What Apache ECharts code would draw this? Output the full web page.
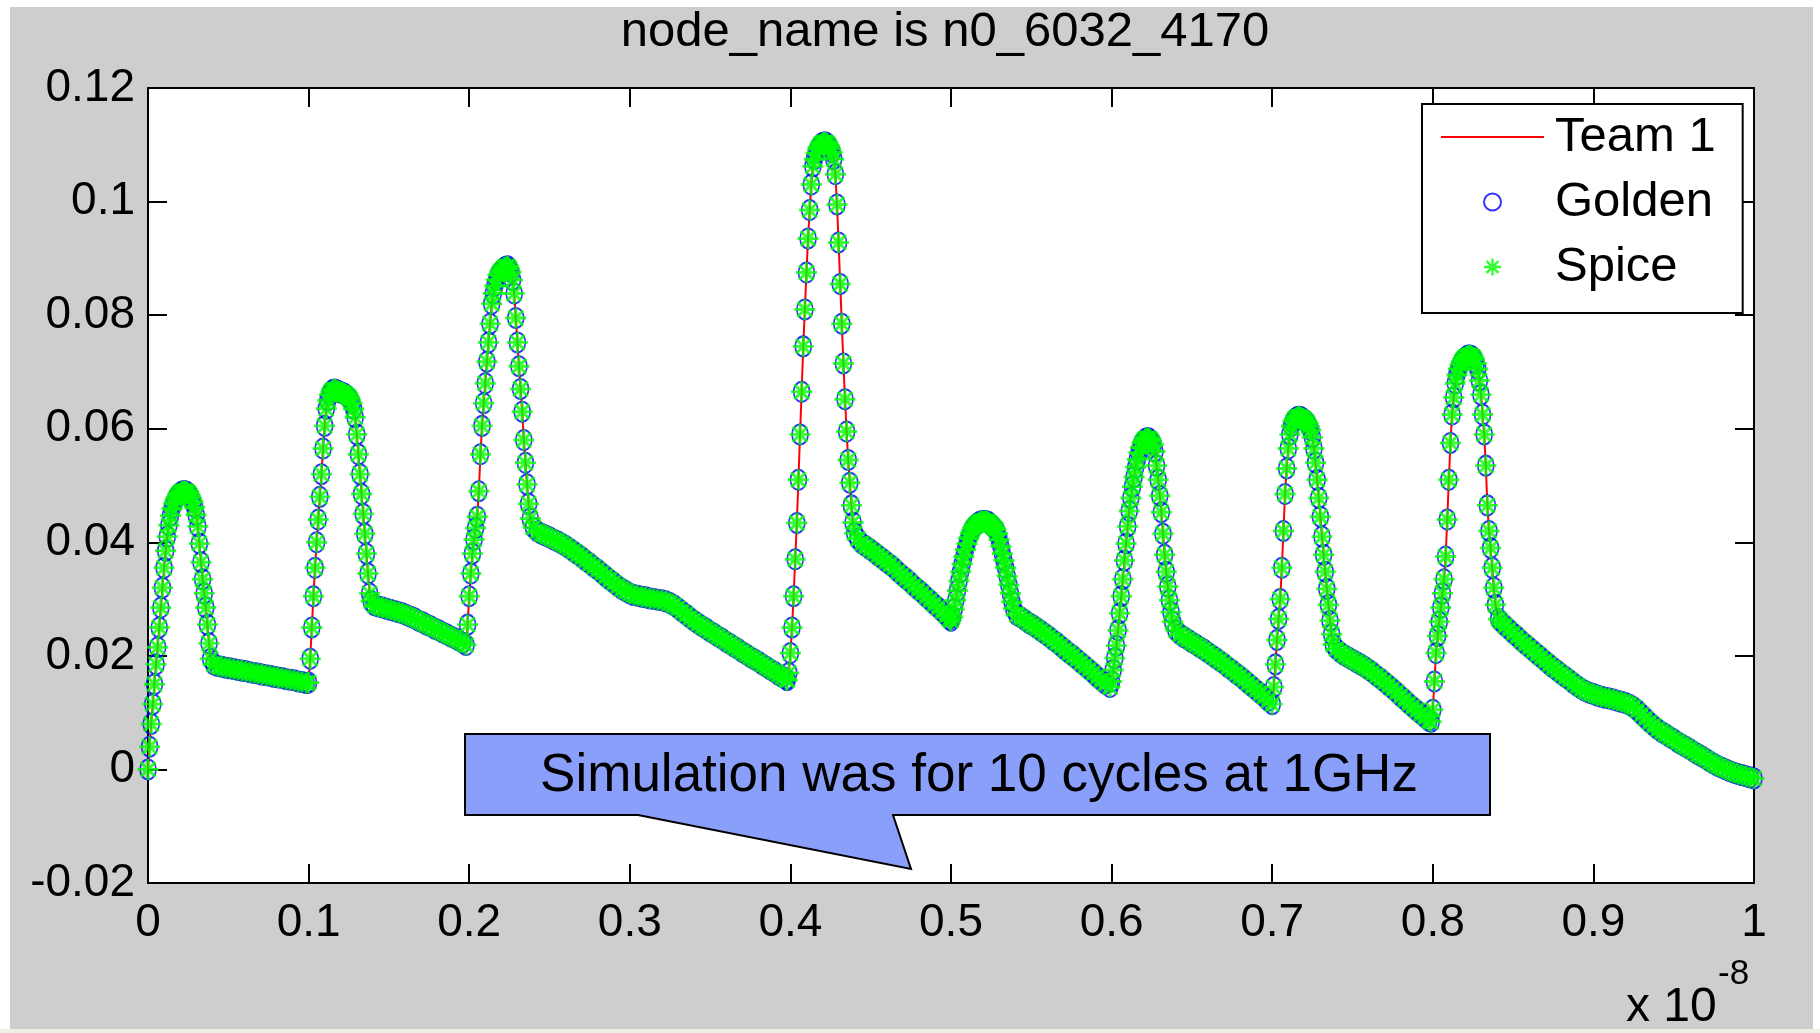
<!DOCTYPE html>
<html>
<head>
<meta charset="utf-8">
<script src="https://cdn.jsdelivr.net/npm/echarts@6/dist/echarts.min.js"></script>
<style>
    html, body { margin: 0; padding: 0; background: #fff; }
    #main { width: 1820px; height: 1033px; }
</style>
</head>
<body>
<div id="main"></div>
<script>
// time axis in units of 1e-8 s, one line per stretch of the trace
var time = [
    0, 0.001, 0.002, 0.003, 0.004, 0.005, 0.006, 0.007, 0.008, 0.009, 0.010, 0.011, 0.012, 0.013, 0.014, 0.015, 0.016, 0.017, 0.018, 0.019, 0.020, 0.021, 0.022, 0.023, 0.024, 0.025, 0.026, 0.027, 0.028, 0.029, 0.030, 0.031, 0.032, 0.033, 0.034, 0.035, 0.036, 0.037, 0.038, 0.039, 0.041,
    0.0435, 0.046, 0.0485, 0.051, 0.0535, 0.056, 0.0585, 0.061, 0.0635, 0.066, 0.0685, 0.071, 0.0735, 0.076, 0.0785, 0.081, 0.0835, 0.086, 0.0885, 0.091, 0.0935, 0.096, 0.0985,
    0.100, 0.101, 0.102, 0.103, 0.104, 0.105, 0.106, 0.107, 0.108, 0.109, 0.110, 0.111, 0.112, 0.113, 0.114, 0.115, 0.116, 0.117, 0.118, 0.119, 0.120, 0.121, 0.122, 0.123, 0.124, 0.125, 0.126, 0.127, 0.128, 0.129, 0.130, 0.131, 0.132, 0.133, 0.134, 0.135, 0.136, 0.137, 0.138, 0.139, 0.141,
    0.1435, 0.146, 0.1485, 0.151, 0.1535, 0.156, 0.1585, 0.161, 0.1635, 0.166, 0.1685, 0.171, 0.1735, 0.176, 0.1785, 0.181, 0.1835, 0.186, 0.1885, 0.191, 0.1935, 0.196, 0.198,
    0.199, 0.200, 0.201, 0.202, 0.203, 0.204, 0.205, 0.206, 0.207, 0.208, 0.209, 0.210, 0.211, 0.212, 0.213, 0.214, 0.215, 0.216, 0.217, 0.218, 0.219, 0.220, 0.221, 0.222, 0.223, 0.224, 0.225, 0.226, 0.227, 0.228, 0.229, 0.230, 0.231, 0.232, 0.233, 0.234, 0.235, 0.236, 0.237, 0.238, 0.240,
    0.2425, 0.245, 0.2475, 0.25, 0.2525, 0.255, 0.2575, 0.26, 0.2625, 0.265, 0.2675, 0.27, 0.2725, 0.275, 0.2775, 0.28, 0.2825, 0.285, 0.2875, 0.29, 0.2925, 0.295, 0.2975, 0.30, 0.3025, 0.305, 0.3075, 0.31, 0.3125, 0.315, 0.3175, 0.32, 0.3225, 0.325, 0.3275, 0.33, 0.3325, 0.335, 0.3375, 0.34, 0.3425, 0.345, 0.3475, 0.35, 0.3525, 0.355, 0.3575, 0.36, 0.3625, 0.365, 0.3675, 0.37, 0.3725, 0.375, 0.3775, 0.38, 0.3825, 0.385, 0.3875, 0.39, 0.3925, 0.395, 0.3975,
    0.398, 0.399, 0.400, 0.401, 0.402, 0.403, 0.404, 0.405, 0.406, 0.407, 0.408, 0.409, 0.410, 0.411, 0.412, 0.413, 0.414, 0.415, 0.416, 0.417, 0.418, 0.419, 0.420, 0.421, 0.422, 0.423, 0.424, 0.425, 0.426, 0.427, 0.428, 0.429, 0.430, 0.431, 0.432, 0.433, 0.434, 0.435, 0.436, 0.437, 0.438, 0.439, 0.440, 0.442,
    0.4445, 0.447, 0.4495, 0.452, 0.4545, 0.457, 0.4595, 0.462, 0.4645, 0.467, 0.4695, 0.472, 0.4745, 0.477, 0.4795, 0.482, 0.4845, 0.487, 0.4895, 0.492, 0.4945, 0.497, 0.499,
    0.500, 0.501, 0.502, 0.503, 0.504, 0.505, 0.506, 0.507, 0.508, 0.509, 0.510, 0.511, 0.512, 0.513, 0.514, 0.515, 0.516, 0.517, 0.518, 0.519, 0.520, 0.521, 0.522, 0.523, 0.524, 0.525, 0.526, 0.527, 0.528, 0.529, 0.530, 0.531, 0.532, 0.533, 0.534, 0.535, 0.536, 0.537, 0.538, 0.539, 0.541,
    0.5435, 0.546, 0.5485, 0.551, 0.5535, 0.556, 0.5585, 0.561, 0.5635, 0.566, 0.5685, 0.571, 0.5735, 0.576, 0.5785, 0.581, 0.5835, 0.586, 0.5885, 0.591, 0.5935, 0.596, 0.599,
    0.600, 0.601, 0.602, 0.603, 0.604, 0.605, 0.606, 0.607, 0.608, 0.609, 0.610, 0.611, 0.612, 0.613, 0.614, 0.615, 0.616, 0.617, 0.618, 0.619, 0.620, 0.621, 0.622, 0.623, 0.624, 0.625, 0.626, 0.627, 0.628, 0.629, 0.630, 0.631, 0.632, 0.633, 0.634, 0.635, 0.636, 0.637, 0.638, 0.640,
    0.6425, 0.645, 0.6475, 0.65, 0.6525, 0.655, 0.6575, 0.66, 0.6625, 0.665, 0.6675, 0.67, 0.6725, 0.675, 0.6775, 0.68, 0.6825, 0.685, 0.6875, 0.69, 0.6925, 0.695, 0.6975,
    0.700, 0.701, 0.702, 0.703, 0.704, 0.705, 0.706, 0.707, 0.708, 0.709, 0.710, 0.711, 0.712, 0.713, 0.714, 0.715, 0.716, 0.717, 0.718, 0.719, 0.720, 0.721, 0.722, 0.723, 0.724, 0.725, 0.726, 0.727, 0.728, 0.729, 0.730, 0.731, 0.732, 0.733, 0.734, 0.735, 0.736, 0.737, 0.738, 0.740,
    0.7425, 0.745, 0.7475, 0.75, 0.7525, 0.755, 0.7575, 0.76, 0.7625, 0.765, 0.7675, 0.77, 0.7725, 0.775, 0.7775, 0.78, 0.7825, 0.785, 0.7875, 0.79, 0.7925, 0.795, 0.7975,
    0.799, 0.800, 0.801, 0.802, 0.803, 0.804, 0.805, 0.806, 0.807, 0.808, 0.809, 0.810, 0.811, 0.812, 0.813, 0.814, 0.815, 0.816, 0.817, 0.818, 0.819, 0.820, 0.821, 0.822, 0.823, 0.824, 0.825, 0.826, 0.827, 0.828, 0.829, 0.830, 0.831, 0.832, 0.833, 0.834, 0.835, 0.836, 0.837, 0.838, 0.839, 0.841,
    0.8425, 0.845, 0.8475, 0.85, 0.8525, 0.855, 0.8575, 0.86, 0.8625, 0.865, 0.8675, 0.87, 0.8725, 0.875, 0.8775, 0.88, 0.8825, 0.885, 0.8875, 0.89, 0.8925, 0.895, 0.8975, 0.90, 0.9025, 0.905, 0.9075, 0.91, 0.9125, 0.915, 0.9175, 0.92, 0.9225, 0.925, 0.9275, 0.93, 0.9325, 0.935, 0.9375, 0.94, 0.9425, 0.945, 0.9475, 0.95, 0.9525, 0.955, 0.9575, 0.96, 0.9625, 0.965, 0.9675, 0.97, 0.9725, 0.975, 0.9775, 0.98, 0.9825, 0.985, 0.9875, 0.99, 0.9925, 0.995, 0.9975, 1.0
];

// node voltage (Team 1, Golden and Spice lie on top of each other)
var voltage = [
    0, 0.004, 0.008, 0.0115, 0.015, 0.0185, 0.0215, 0.025, 0.0285, 0.032, 0.0355, 0.0385, 0.041, 0.043, 0.0447, 0.046, 0.0468, 0.0475, 0.048, 0.0484, 0.0487, 0.0489, 0.049, 0.049, 0.0489, 0.0487, 0.0483, 0.0478, 0.0471, 0.0462, 0.0448, 0.0428, 0.0398, 0.0365, 0.0335, 0.031, 0.0285, 0.0255, 0.0222, 0.0195, 0.0185,
    0.0182, 0.0181, 0.0179, 0.0178, 0.0177, 0.0175, 0.0174, 0.0173, 0.0171, 0.017, 0.0169, 0.0167, 0.0166, 0.0165, 0.0163, 0.0162, 0.0161, 0.0159, 0.0158, 0.0157, 0.0155, 0.0154, 0.0152,
    0.0153, 0.0195, 0.025, 0.0305, 0.0355, 0.040, 0.044, 0.048, 0.052, 0.0565, 0.0605, 0.0635, 0.065, 0.066, 0.0665, 0.0668, 0.0669, 0.0668, 0.0667, 0.0665, 0.0664, 0.0663, 0.0662, 0.066, 0.0658, 0.0655, 0.0651, 0.0645, 0.0635, 0.062, 0.059, 0.0555, 0.052, 0.0485, 0.045, 0.0415, 0.038, 0.0345, 0.031, 0.0296, 0.0289,
    0.0287, 0.0285, 0.0283, 0.0281, 0.0279, 0.0277, 0.0275, 0.0272, 0.0269, 0.0266, 0.0262, 0.0259, 0.0255, 0.0252, 0.0248, 0.0245, 0.0241, 0.0238, 0.0234, 0.0231, 0.0227, 0.0223, 0.0219,
    0.0255, 0.0305, 0.0345, 0.038, 0.0405, 0.0425, 0.0445, 0.049, 0.0555, 0.0605, 0.0645, 0.068, 0.0718, 0.0752, 0.0785, 0.082, 0.0838, 0.0852, 0.0862, 0.087, 0.0875, 0.0878, 0.0881, 0.0884, 0.0885, 0.0886, 0.0882, 0.0876, 0.0862, 0.0838, 0.0795, 0.0752, 0.071, 0.067, 0.063, 0.058, 0.054, 0.0502, 0.0468, 0.0442, 0.0426,
    0.0419, 0.0415, 0.0412, 0.0409, 0.0405, 0.0402, 0.0398, 0.0394, 0.0389, 0.0384, 0.0379, 0.0374, 0.0368, 0.0363, 0.0357, 0.0352, 0.0346, 0.034, 0.0334, 0.0329, 0.0323, 0.0318, 0.0314, 0.031, 0.0307, 0.0306, 0.0304, 0.0303, 0.0301, 0.03, 0.0299, 0.0298, 0.0296, 0.0293, 0.0289, 0.0284, 0.0278, 0.0273, 0.0267, 0.0262, 0.0257, 0.0252, 0.0248, 0.0243, 0.0239, 0.0234, 0.023, 0.0225, 0.0221, 0.0216, 0.0212, 0.0207, 0.0203, 0.0198, 0.0194, 0.019, 0.0185, 0.0181, 0.0176, 0.0172, 0.0167, 0.0163, 0.0159,
    0.0157, 0.017, 0.0205, 0.025, 0.0305, 0.037, 0.0434, 0.051, 0.059, 0.0665, 0.0745, 0.081, 0.0875, 0.0935, 0.0985, 0.103, 0.1062, 0.1075, 0.1085, 0.1092, 0.1097, 0.1101, 0.1103, 0.1104, 0.1104, 0.1102, 0.1098, 0.1093, 0.1087, 0.1075, 0.1048, 0.0995, 0.0928, 0.0855, 0.0785, 0.0715, 0.0652, 0.0595, 0.0545, 0.0505, 0.0465, 0.0435, 0.0416, 0.0406,
    0.0398, 0.0393, 0.0388, 0.0383, 0.0377, 0.0372, 0.0366, 0.0361, 0.0355, 0.0348, 0.0342, 0.0336, 0.033, 0.0323, 0.0317, 0.0311, 0.0304, 0.0298, 0.0291, 0.0285, 0.0278, 0.0271, 0.0265,
    0.0262, 0.0268, 0.0282, 0.0298, 0.0315, 0.0332, 0.0348, 0.0362, 0.0375, 0.0387, 0.0398, 0.0407, 0.0415, 0.0421, 0.0426, 0.0429, 0.0432, 0.0434, 0.0436, 0.0437, 0.0437, 0.0437, 0.0437, 0.0436, 0.0434, 0.0431, 0.0428, 0.0425, 0.0422, 0.0415, 0.0405, 0.0393, 0.038, 0.0368, 0.0355, 0.034, 0.0325, 0.031, 0.0295, 0.0283, 0.0272,
    0.0268, 0.0263, 0.0258, 0.0254, 0.0249, 0.0244, 0.0239, 0.0234, 0.0228, 0.0223, 0.0217, 0.0211, 0.0205, 0.02, 0.0194, 0.0188, 0.0182, 0.0176, 0.017, 0.0163, 0.0157, 0.0151, 0.0145,
    0.0155, 0.0175, 0.0196, 0.0218, 0.0245, 0.0275, 0.0305, 0.0335, 0.0368, 0.0398, 0.0428, 0.0455, 0.0478, 0.0498, 0.0515, 0.0532, 0.0546, 0.0558, 0.0567, 0.0575, 0.0579, 0.0582, 0.0583, 0.0583, 0.0581, 0.0577, 0.0572, 0.056, 0.0535, 0.051, 0.0482, 0.0453, 0.0415, 0.0378, 0.0348, 0.0322, 0.0298, 0.0277, 0.026, 0.0245,
    0.0238, 0.0233, 0.0229, 0.0224, 0.022, 0.0215, 0.0211, 0.0206, 0.0201, 0.0196, 0.0191, 0.0186, 0.018, 0.0175, 0.0169, 0.0164, 0.0158, 0.0152, 0.0146, 0.014, 0.0134, 0.0128, 0.0121,
    0.0115, 0.0145, 0.0185, 0.0228, 0.0265, 0.030, 0.0355, 0.042, 0.0485, 0.053, 0.0565, 0.059, 0.0605, 0.0612, 0.0617, 0.0619, 0.0621, 0.0621, 0.062, 0.0618, 0.0616, 0.0613, 0.061, 0.0604, 0.0598, 0.0585, 0.0565, 0.054, 0.051, 0.0478, 0.0445, 0.041, 0.0378, 0.0348, 0.0318, 0.029, 0.0262, 0.0238, 0.022, 0.0212,
    0.0206, 0.0201, 0.0197, 0.0193, 0.0189, 0.0185, 0.0181, 0.0176, 0.0171, 0.0165, 0.016, 0.0154, 0.0148, 0.0142, 0.0136, 0.0129, 0.0123, 0.0116, 0.011, 0.0104, 0.0098, 0.0092, 0.0086,
    0.0084, 0.0105, 0.0155, 0.0205, 0.0235, 0.026, 0.0285, 0.031, 0.0335, 0.0375, 0.044, 0.051, 0.0575, 0.0625, 0.0655, 0.068, 0.0695, 0.0705, 0.0712, 0.0718, 0.0722, 0.0725, 0.0727, 0.0729, 0.0729, 0.0728, 0.0726, 0.0722, 0.0715, 0.0705, 0.0685, 0.066, 0.0625, 0.059, 0.0535, 0.0465, 0.042, 0.039, 0.0355, 0.032, 0.029, 0.0265,
    0.026, 0.0253, 0.0247, 0.024, 0.0234, 0.0227, 0.0221, 0.0215, 0.0209, 0.0203, 0.0197, 0.0191, 0.0185, 0.0179, 0.0174, 0.0168, 0.0163, 0.0158, 0.0152, 0.0147, 0.0142, 0.0138, 0.0135, 0.0133, 0.013, 0.0128, 0.0126, 0.0125, 0.0123, 0.0121, 0.0119, 0.0117, 0.0114, 0.011, 0.0104, 0.0097, 0.009, 0.0083, 0.0077, 0.0071, 0.0066, 0.0062, 0.0057, 0.0053, 0.0048, 0.0044, 0.004, 0.0036, 0.0031, 0.0027, 0.0023, 0.0019, 0.0014, 0.001, 0.0006, 0.0003, 0, -0.0003, -0.0006, -0.0008, -0.001, -0.0012, -0.0014, -0.0016
];

var seriesNames = ['Team 1', 'Golden', 'Spice'];
var xTickLabels = ['0', '0.1', '0.2', '0.3', '0.4', '0.5', '0.6', '0.7', '0.8', '0.9', '1'];
var yTickLabels = ['-0.02', '0', '0.02', '0.04', '0.06', '0.08', '0.1', '0.12'];
var titleText = 'node_name is n0_6032_4170';
var noteText = 'Simulation was for 10 cycles at 1GHz';

var FONT = '"Liberation Sans", Arial, Helvetica, sans-serif';
// matlab '*' marker: a '+' and an 'x' made of thin bars
var ASTERISK = 'path://M43,0L57,0L57,100L43,100Z M0,43L100,43L100,57L0,57Z M10,20L20,10L90,80L80,90Z M80,10L90,20L20,90L10,80Z';

var n = Math.min(time.length, voltage.length);
if (time.length !== voltage.length) console.warn('length mismatch', time.length, voltage.length);
var points = [];
for (var i = 0; i < n; i++) {
    points.push([time[i], voltage[i]]);
}

var myChart = echarts.init(document.getElementById('main'));

var axisLine = { show: true, onZero: false, lineStyle: { color: '#000', width: 2 } };
var axisTick = { show: true, inside: true, length: 19, lineStyle: { color: '#000', width: 2 } };

var option = {
    animation: false,
    backgroundColor: '#cecece',
    title: {
        text: titleText,
        left: 945,
        top: 8,
        textAlign: 'center',
        padding: 0,
        textStyle: { fontFamily: FONT, fontSize: 49, fontWeight: 'normal', color: '#000' }
    },
    legend: {
        orient: 'vertical',
        left: 1422,
        top: 104,
        padding: [8, 27, 21, 19],
        itemWidth: 103,
        itemHeight: 17,
        itemGap: 15,
        backgroundColor: '#fff',
        borderColor: '#000',
        borderWidth: 2,
        borderRadius: 0,
        selectedMode: false,
        textStyle: { fontFamily: FONT, fontSize: 49, lineHeight: 50, color: '#000', padding: [0, 0, 0, 6] },
        data: [
            { name: seriesNames[0], icon: 'path://M0,0L100,0L100,2L0,2Z' },
            { name: seriesNames[1] },
            { name: seriesNames[2] }
        ]
    },
    grid: {
        left: 148,
        top: 88,
        right: 66,
        bottom: 150,
        show: true,
        backgroundColor: '#fff',
        borderWidth: 0,
        outerBoundsMode: 'none'
    },
    xAxis: [
        {
            type: 'value', min: 0, max: 1, interval: 0.1, position: 'bottom',
            axisLine: axisLine, axisTick: axisTick, splitLine: { show: false },
            axisLabel: {
                margin: 17, fontFamily: FONT, fontSize: 46, color: '#000',
                formatter: function (v, idx) { return xTickLabels[idx]; }
            }
        },
        {
            type: 'value', min: 0, max: 1, interval: 0.1, position: 'top',
            axisLine: axisLine, axisTick: axisTick, splitLine: { show: false },
            axisLabel: { show: false }
        }
    ],
    yAxis: [
        {
            type: 'value', min: -0.02, max: 0.12, interval: 0.02, position: 'left',
            axisLine: axisLine, axisTick: axisTick, splitLine: { show: false },
            axisLabel: {
                margin: 13, fontFamily: FONT, fontSize: 46, color: '#000',
                formatter: function (v, idx) { return yTickLabels[idx]; }
            }
        },
        {
            type: 'value', min: -0.02, max: 0.12, interval: 0.02, position: 'right',
            axisLine: axisLine, axisTick: axisTick, splitLine: { show: false },
            axisLabel: { show: false }
        }
    ],
    series: [
        {
            name: seriesNames[0],
            type: 'line',
            data: points,
            symbol: 'none',
            showSymbol: false,
            silent: true,
            z: 2,
            itemStyle: { color: '#ff0000' },
            lineStyle: { color: '#ff0000', width: 2 }
        },
        {
            name: seriesNames[1],
            type: 'scatter',
            data: points,
            symbol: 'circle',
            symbolSize: [16, 20],
            silent: true,
            z: 3,
            itemStyle: { color: 'rgba(0,0,0,0)', borderColor: '#0000ff', borderWidth: 1.8 }
        },
        {
            name: seriesNames[2],
            type: 'scatter',
            data: points,
            symbol: ASTERISK,
            symbolSize: 21,
            silent: true,
            z: 4,
            itemStyle: { color: '#00ff00' }
        }
    ],
    graphic: [
        // white page edges round the grey figure
        { type: 'rect', z: 100, silent: true, shape: { x: 0, y: 0, width: 1820, height: 7 }, style: { fill: '#fff' } },
        { type: 'rect', z: 100, silent: true, shape: { x: 0, y: 0, width: 10, height: 1033 }, style: { fill: '#fff' } },
        { type: 'rect', z: 100, silent: true, shape: { x: 1813, y: 0, width: 7, height: 1033 }, style: { fill: '#fff' } },
        { type: 'rect', z: 100, silent: true, shape: { x: 0, y: 1029, width: 1820, height: 4 }, style: { fill: '#f1efe2' } },
        // callout
        {
            type: 'polygon', z: 100, silent: true,
            shape: { points: [[465, 734], [1490, 734], [1490, 815], [893, 815], [911, 869], [638, 815], [465, 815]] },
            style: { fill: '#8a9ff9', stroke: '#000', lineWidth: 2 }
        },
        {
            type: 'text', z: 101, silent: true,
            style: {
                text: noteText, x: 979, y: 776, fill: '#000',
                font: '53px ' + FONT,
                align: 'center', verticalAlign: 'middle',
                textAlign: 'center', textVerticalAlign: 'middle'
            }
        },
        // exponent of the time axis
        {
            type: 'text', z: 101, silent: true,
            style: {
                text: 'x 10', x: 1626, y: 1008, fill: '#000',
                font: '48px ' + FONT,
                align: 'left', verticalAlign: 'middle',
                textAlign: 'left', textVerticalAlign: 'middle'
            }
        },
        {
            type: 'text', z: 101, silent: true,
            style: {
                text: '-8', x: 1718, y: 974, fill: '#000',
                font: '35px ' + FONT,
                align: 'left', verticalAlign: 'middle',
                textAlign: 'left', textVerticalAlign: 'middle'
            }
        }
    ]
};

option && myChart.setOption(option);
</script>
</body>
</html>
